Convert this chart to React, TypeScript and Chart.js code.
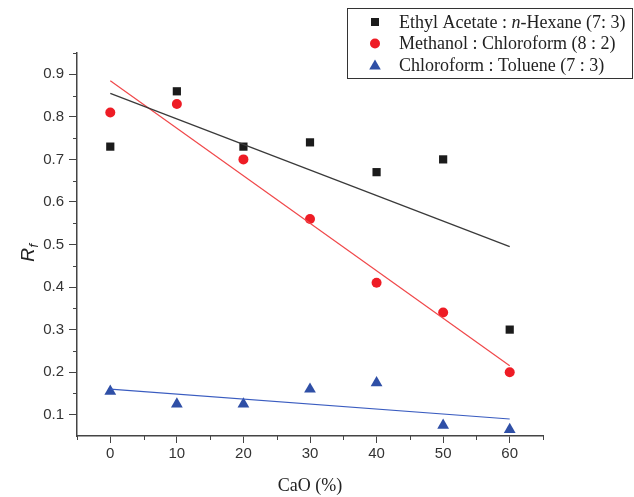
import React, { useEffect, useRef } from "react";
import { Chart, registerables } from "chart.js";

Chart.register(...registerables);

const xValues = [0, 10, 20, 30, 40, 50, 60];
const ethylAcetateHexane = [0.73, 0.86, 0.73, 0.74, 0.67, 0.7, 0.3];
const methanolChloroform = [0.81, 0.83, 0.7, 0.56, 0.41, 0.34, 0.2];
const chloroformToluene = [0.155, 0.125, 0.125, 0.16, 0.175, 0.075, 0.065];

const fitX = [0, 60];
const fitEthyl = [0.855, 0.495];
const fitMethanol = [0.885, 0.215];
const fitChloroform = [0.16, 0.09];

const xTicks = [0, 10, 20, 30, 40, 50, 60];
const xMinorTicks = [-5, 5, 15, 25, 35, 45, 55, 65];
const yTicks = [0.1, 0.2, 0.3, 0.4, 0.5, 0.6, 0.7, 0.8, 0.9];
const yMinorTicks = [0.15, 0.25, 0.35, 0.45, 0.55, 0.65, 0.75, 0.85, 0.95];

const colors = { black: "#1b1b1b", red: "#ee1c25", blue: "#2f4fa6" };
const lineColors = { black: "#3a3a3a", red: "#f0484a", blue: "#3a5cc0" };

const legendParts: { text: string; italic: boolean }[][] = [
  [
    { text: "Ethyl Acetate : ", italic: false },
    { text: "n", italic: true },
    { text: "-Hexane (7: 3)", italic: false },
  ],
  [{ text: "Methanol : Chloroform (8 : 2)", italic: false }],
  [{ text: "Chloroform : Toluene (7 : 3)", italic: false }],
];
const legendMarkers = ["rect", "circle", "triangle"];
const legendColors = [colors.black, colors.red, colors.blue];

const SANS = "'Liberation Sans', Arial, sans-serif";
const SERIF = "'Liberation Serif', 'Times New Roman', serif";

function pts(xs: number[], ys: number[]) {
  return xs.map((x, i) => ({ x, y: ys[i] }));
}

function drawMarker(ctx: CanvasRenderingContext2D, kind: string, x: number, y: number, color: string) {
  ctx.fillStyle = color;
  ctx.beginPath();
  if (kind === "rect") {
    ctx.rect(x - 4, y - 4, 8, 8);
  } else if (kind === "circle") {
    ctx.arc(x, y, 5, 0, Math.PI * 2);
  } else {
    ctx.moveTo(x, y - 5.5);
    ctx.lineTo(x + 5.8, y + 4.5);
    ctx.lineTo(x - 5.8, y + 4.5);
    ctx.closePath();
  }
  ctx.fill();
}

const extrasPlugin = {
  id: "extras",
  afterDraw(chart: any) {
    const ctx: CanvasRenderingContext2D = chart.ctx;
    const xs = chart.scales.x;
    const ys = chart.scales.y;
    ctx.save();
    // minor ticks
    ctx.strokeStyle = "#444";
    ctx.lineWidth = 1;
    ctx.beginPath();
    xMinorTicks.forEach((v) => {
      const px = Math.round(xs.getPixelForValue(v)) + 0.5;
      ctx.moveTo(px, ys.bottom);
      ctx.lineTo(px, ys.bottom + 4);
    });
    yMinorTicks.forEach((v) => {
      const py = Math.round(ys.getPixelForValue(v)) + 0.5;
      ctx.moveTo(xs.left, py);
      ctx.lineTo(xs.left - 4, py);
    });
    ctx.stroke();

    // y title R_f
    ctx.save();
    ctx.translate(34, 253);
    ctx.rotate(-Math.PI / 2);
    ctx.fillStyle = "#222";
    ctx.textBaseline = "alphabetic";
    ctx.textAlign = "left";
    ctx.font = `italic 19px ${SANS}`;
    const wR = ctx.measureText("R").width;
    ctx.font = `italic 13px ${SANS}`;
    const wf = ctx.measureText("f").width;
    const start = -(wR + wf) / 2;
    ctx.font = `italic 19px ${SANS}`;
    ctx.fillText("R", start, 0);
    ctx.font = `italic 13px ${SANS}`;
    ctx.fillText("f", start + wR + 0.5, 4);
    ctx.restore();

    // legend
    const bx = 347.5, by = 8.5, bw = 285, bh = 70;
    ctx.fillStyle = "#fff";
    ctx.fillRect(bx, by, bw, bh);
    ctx.strokeStyle = "#333";
    ctx.lineWidth = 1;
    ctx.strokeRect(bx, by, bw, bh);
    const rowY = [22, 43.5, 65];
    legendParts.forEach((parts, i) => {
      drawMarker(ctx, legendMarkers[i], 375, rowY[i], legendColors[i]);
      let tx = 399;
      ctx.fillStyle = "#222";
      ctx.textBaseline = "middle";
      ctx.textAlign = "left";
      parts.forEach((p) => {
        ctx.font = `${p.italic ? "italic " : ""}18px ${SERIF}`;
        ctx.fillText(p.text, tx, rowY[i] + 1);
        tx += ctx.measureText(p.text).width;
      });
    });
    ctx.restore();
  },
};

export default function App() {
  const ref = useRef<HTMLCanvasElement | null>(null);
  useEffect(() => {
    if (!ref.current) return;
    const chart = new Chart(ref.current, {
      type: "scatter",
      data: {
        datasets: [
          {
            label: "Ethyl Acetate fit",
            data: pts(fitX, fitEthyl),
            showLine: true,
            borderColor: lineColors.black,
            borderWidth: 1.3,
            pointRadius: 0,
          },
          {
            label: "Methanol fit",
            data: pts(fitX, fitMethanol),
            showLine: true,
            borderColor: lineColors.red,
            borderWidth: 1.2,
            pointRadius: 0,
          },
          {
            label: "Chloroform fit",
            data: pts(fitX, fitChloroform),
            showLine: true,
            borderColor: lineColors.blue,
            borderWidth: 1.2,
            pointRadius: 0,
          },
          {
            label: "Ethyl Acetate : n-Hexane (7: 3)",
            data: pts(xValues, ethylAcetateHexane),
            pointStyle: "rect",
            pointRadius: 5.8,
            backgroundColor: colors.black,
            borderColor: colors.black,
            borderWidth: 0,
          },
          {
            label: "Methanol : Chloroform (8 : 2)",
            data: pts(xValues, methanolChloroform),
            pointStyle: "circle",
            pointRadius: 5,
            backgroundColor: colors.red,
            borderColor: colors.red,
            borderWidth: 0,
          },
          {
            label: "Chloroform : Toluene (7 : 3)",
            data: pts(xValues, chloroformToluene),
            pointStyle: "triangle",
            pointRadius: 6.8,
            backgroundColor: colors.blue,
            borderColor: colors.blue,
            borderWidth: 0,
          },
        ],
      },
      options: {
        animation: false,
        responsive: true,
        maintainAspectRatio: false,
        layout: { padding: { top: 53, right: 91, left: 0, bottom: 0 } },
        plugins: { legend: { display: false }, tooltip: { enabled: false } },
        scales: {
          x: {
            type: "linear",
            min: -5,
            max: 65,
            afterBuildTicks: (s: any) => {
              s.ticks = xTicks.map((v) => ({ value: v }));
            },
            afterFit: (s: any) => {
              s.height = 61;
            },
            grid: { drawOnChartArea: false, drawTicks: true, tickLength: 7, color: "#444", tickWidth: 1 },
            border: { color: "#444", width: 1.5 },
            ticks: {
              font: { family: SANS, size: 15 },
              color: "#333",
              padding: 2,
              maxRotation: 0,
              callback: (v: any) => String(v),
            },
            title: {
              display: true,
              text: "CaO (%)",
              font: { family: SERIF, size: 18 },
              color: "#222",
              padding: { top: 0, bottom: 0 },
            },
          },
          y: {
            type: "linear",
            min: 0.05,
            max: 0.95,
            afterBuildTicks: (s: any) => {
              s.ticks = yTicks.map((v) => ({ value: v }));
            },
            afterFit: (s: any) => {
              s.width = 77;
            },
            grid: { drawOnChartArea: false, drawTicks: true, tickLength: 8, color: "#444", tickWidth: 1 },
            border: { color: "#444", width: 1.5 },
            ticks: {
              font: { family: SANS, size: 15 },
              color: "#333",
              padding: 5,
              callback: (v: any) => Number(v).toFixed(1),
            },
          },
        },
      },
      plugins: [extrasPlugin],
    } as any);
    return () => chart.destroy();
  }, []);
  return (
    <div style={{ position: "fixed", left: 0, top: 0, width: 634, height: 497, background: "#fff" }}>
      <canvas ref={ref} />
    </div>
  );
}
